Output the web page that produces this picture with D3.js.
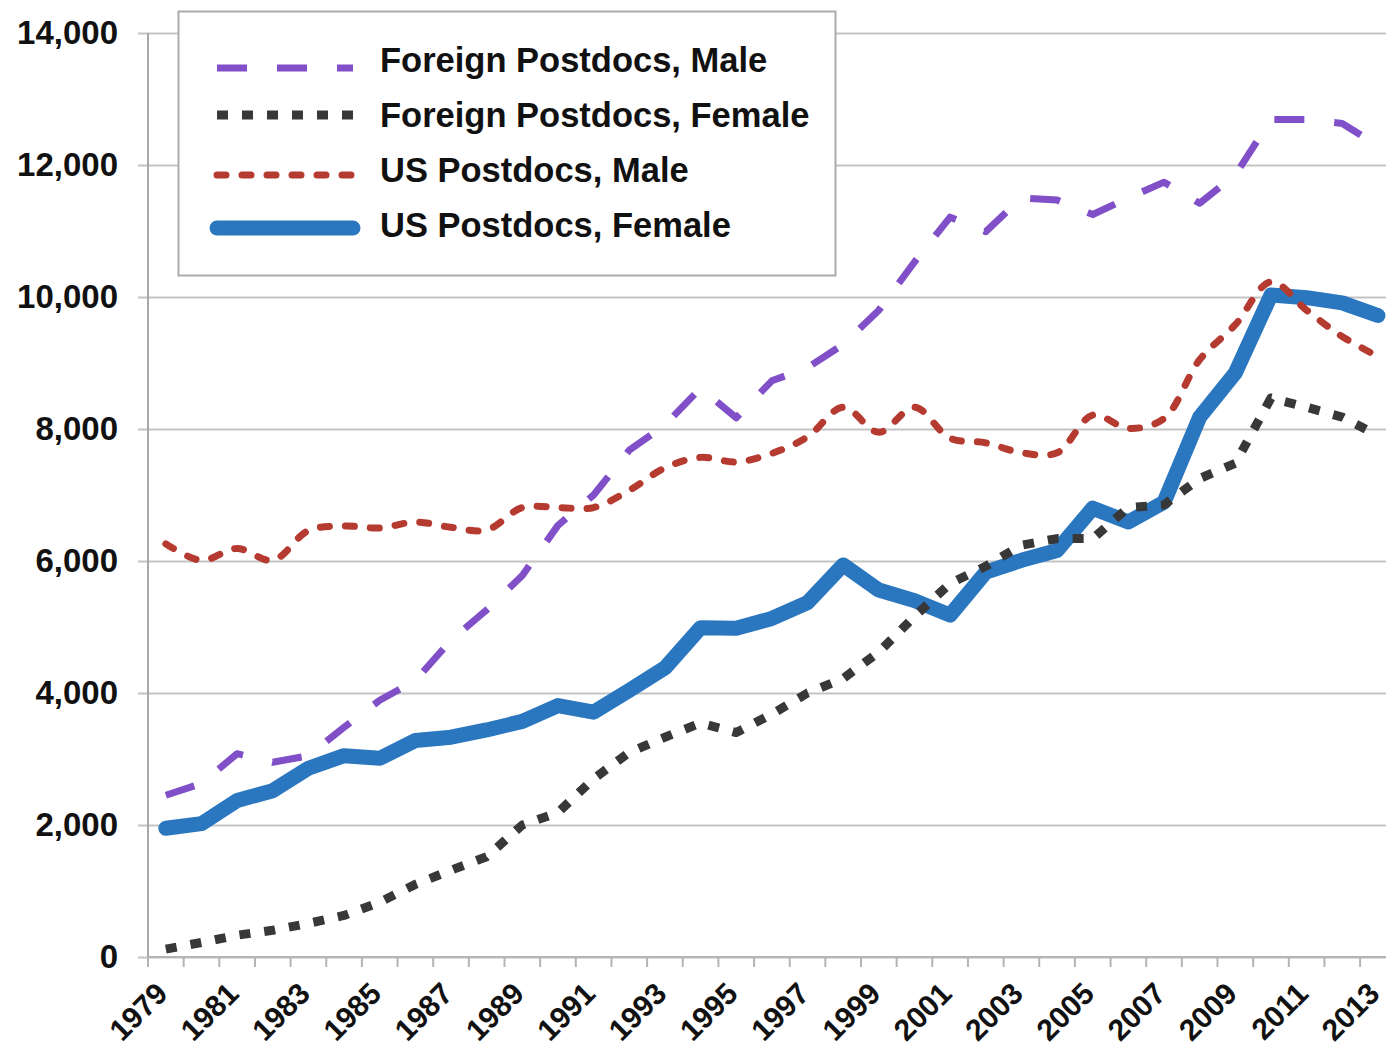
<!DOCTYPE html>
<html>
<head>
<meta charset="utf-8">
<script src="https://cdn.jsdelivr.net/npm/d3@7"></script>
<style>
  html, body { margin: 0; padding: 0; background: #fff; }
  svg { display: block; font-family: "Liberation Sans", Arial, sans-serif; }
</style>
</head>
<body>
<svg id="chart" width="1386" height="1050"></svg>
<script>
// --- Data ---
const years = d3.range(1979, 2014);
const foreignMale = [2450, 2630, 3080, 2950, 3050, 3480, 3890, 4190, 4800, 5260, 5780, 6540, 7000, 7680, 8060,
  8620, 8170, 8730, 8930, 9280, 9800, 10530, 11210, 10990, 11500, 11470, 11250, 11500, 11740, 11420, 11850,
  12690, 12690, 12630, 12290];
const foreignFemale = [120, 220, 330, 405, 510, 630, 830, 1100, 1315, 1520, 2000, 2190, 2700, 3100, 3330,
  3545, 3400, 3680, 4000, 4220, 4620, 5160, 5660, 5920, 6240, 6340, 6340, 6810, 6850, 7250, 7480,
  8470, 8330, 8180, 7900];
const usMale = [6260, 6010, 6190, 6010, 6460, 6530, 6500, 6590, 6510, 6470, 6810, 6810, 6810, 7070, 7410,
  7570, 7500, 7630, 7880, 8330, 7950, 8330, 7860, 7790, 7640, 7640, 8210, 8010, 8160, 9050, 9580,
  10230, 9800, 9400, 9100];
const usFemale = [1950, 2020, 2370, 2520, 2860, 3050, 3010, 3280, 3330, 3440, 3570, 3810, 3710, 4040, 4380,
  4990, 4980, 5130, 5370, 5940, 5560, 5400, 5180, 5830, 6010, 6160, 6800, 6590, 6890, 8180, 8850,
  10030, 9990, 9910, 9720];
const yTicks = [0, 2000, 4000, 6000, 8000, 10000, 12000, 14000];
const xLabelYears = years.filter(y => (y - 1979) % 2 === 0);

const series = [
  { name: "Foreign Postdocs, Male", values: foreignMale, color: "#8150c8", width: 7, dash: "30,30", cap: "butt" },
  { name: "Foreign Postdocs, Female", values: foreignFemale, color: "#383838", width: 9, dash: "11,14", cap: "butt" },
  { name: "US Postdocs, Male", values: usMale, color: "#b53a30", width: 7, dash: "9,16", cap: "round" },
  { name: "US Postdocs, Female", values: usFemale, color: "#2a77c0", width: 15, dash: null, cap: "round" }
];

// --- Layout ---
const plotLeft = 148, plotTop = 33, plotBottom = 957;
const step = 35.65;
const plotRight = plotLeft + step * years.length;

const svg = d3.select("#chart");

const x = d3.scaleBand().domain(years).range([plotLeft, plotRight]).paddingInner(0).paddingOuter(0);
const y = d3.scaleLinear().domain([0, 14000]).range([plotBottom, plotTop]);
const cx = yr => x(yr) + x.bandwidth() / 2;

// gridlines + y labels
const yAxis = svg.append("g")
  .attr("transform", `translate(${plotLeft},0)`)
  .call(d3.axisLeft(y).tickValues(yTicks).tickFormat(d3.format(",")).tickSize(-(plotRight - plotLeft)).tickPadding(30));
yAxis.select(".domain").remove();
yAxis.selectAll(".tick line")
  .attr("x1", -10)
  .attr("stroke", "#c4c4c4")
  .attr("stroke-width", 2);
yAxis.selectAll(".tick text")
  .attr("fill", "#111")
  .attr("font-size", 33)
  .attr("font-weight", "bold")
  .attr("font-family", "'Liberation Sans', Arial, sans-serif");

// y axis line
svg.append("line")
  .attr("x1", plotLeft).attr("x2", plotLeft)
  .attr("y1", plotTop).attr("y2", plotBottom)
  .attr("stroke", "#a8a8a8").attr("stroke-width", 2);

// x axis line + boundary ticks
svg.append("line")
  .attr("x1", plotLeft).attr("x2", plotRight)
  .attr("y1", plotBottom).attr("y2", plotBottom)
  .attr("stroke", "#b4b4b4").attr("stroke-width", 2);
const bounds = years.map(yr => x(yr)).concat([plotRight]);
svg.append("g").selectAll("line").data(bounds).join("line")
  .attr("x1", d => d).attr("x2", d => d)
  .attr("y1", plotBottom).attr("y2", plotBottom + 10)
  .attr("stroke", "#b4b4b4").attr("stroke-width", 2);

// x labels, rotated
svg.append("g").selectAll("text").data(xLabelYears).join("text")
  .attr("transform", d => `translate(${cx(d) - 4},${plotBottom + 31}) rotate(-45)`)
  .attr("text-anchor", "end")
  .attr("dy", "0.35em")
  .attr("font-size", 30)
  .attr("font-weight", "bold")
  .attr("fill", "#111")
  .text(d => d);

// --- Lines ---
const line = d3.line()
  .x((d, i) => cx(years[i]))
  .y(d => y(d));

const drawOrder = [series[3], series[2], series[1], series[0]];
svg.append("g").selectAll("path").data(drawOrder).join("path")
  .attr("d", d => (d.name === "US Postdocs, Male" ? line.curve(d3.curveCatmullRom) : line.curve(d3.curveLinear))(d.values))
  .attr("fill", "none")
  .attr("stroke", d => d.color)
  .attr("stroke-width", d => d.width)
  .attr("stroke-dasharray", d => d.dash)
  .attr("stroke-linecap", d => d.cap)
  .attr("stroke-linejoin", "round");

// --- Legend ---
const legend = svg.append("g");
legend.append("rect")
  .attr("x", 178.5).attr("y", 11.5)
  .attr("width", 657).attr("height", 264)
  .attr("fill", "#fff")
  .attr("stroke", "#ababab").attr("stroke-width", 2);

const rowText = [60, 115, 170, 225];
const rowLine = [68, 115, 175, 228];
const items = legend.selectAll("g.item").data(series).join("g").attr("class", "item");
items.append("line")
  .attr("x1", 217).attr("x2", 353)
  .attr("y1", (d, i) => rowLine[i]).attr("y2", (d, i) => rowLine[i])
  .attr("stroke", d => d.color)
  .attr("stroke-width", d => d.width)
  .attr("stroke-dasharray", d => d.dash)
  .attr("stroke-linecap", d => d.cap);
items.append("text")
  .attr("x", 380)
  .attr("y", (d, i) => rowText[i])
  .attr("dy", "0.35em")
  .attr("font-size", 34.5)
  .attr("font-weight", "bold")
  .attr("fill", "#111")
  .text(d => d.name);
</script>
</body>
</html>
